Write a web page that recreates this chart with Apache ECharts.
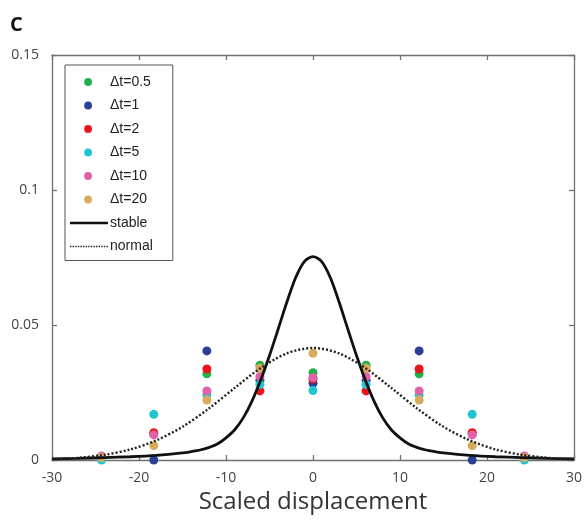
<!DOCTYPE html>
<html>
<head>
<meta charset="utf-8">
<script src="https://cdn.jsdelivr.net/npm/echarts@6/dist/echarts.min.js"></script>
<style>
html,body{margin:0;padding:0;background:#fff;}
#chart{width:585px;height:527px;}
</style>
</head>
<body>
<div id="chart"></div>
<script>
// ---- data ----
var seriesNames = ['\u0394t=0.5', '\u0394t=1', '\u0394t=2', '\u0394t=5', '\u0394t=10', '\u0394t=20'];
var pointX = [-24.3, -18.3, -12.2, -6.1, 0, 6.1, 12.2, 18.3, 24.3];
var dt05 = [0.0010, 0.0097, 0.0319, 0.0351, 0.0323, 0.0351, 0.0319, 0.0097, 0.0010];
var dt1  = [0.0008, 0.0000, 0.0404, 0.0295, 0.0284, 0.0295, 0.0404, 0.0000, 0.0008];
var dt2  = [0.0010, 0.0101, 0.0337, 0.0256, 0.0300, 0.0256, 0.0337, 0.0101, 0.0010];
var dt5  = [0.0000, 0.0169, 0.0241, 0.0280, 0.0257, 0.0280, 0.0241, 0.0169, 0.0000];
var dt10 = [0.0015, 0.0093, 0.0256, 0.0309, 0.0305, 0.0309, 0.0256, 0.0093, 0.0015];
var dt20 = [0.0009, 0.0053, 0.0222, 0.0340, 0.0395, 0.0340, 0.0222, 0.0053, 0.0009];

var stableX = [-30,-27,-24,-21,-18,-15,-14,-13,-12,-11,-10,-9,-8,-7,-6,-5,-4,-3,-2,-1,0,
               1,2,3,4,5,6,7,8,9,10,11,12,13,14,15,18,21,24,27,30];
var stableY = [0.0004,0.0006,0.0009,0.0012,0.0017,0.0026,0.0031,0.0037,0.0046,0.0059,0.0082,0.0112,0.0157,0.0219,0.0297,0.0387,0.0485,0.0585,0.0675,0.0735,0.0753,
               0.0735,0.0675,0.0585,0.0485,0.0387,0.0297,0.0219,0.0157,0.0112,0.0082,0.0059,0.0046,0.0037,0.0031,0.0026,0.0017,0.0012,0.0009,0.0006,0.0004];
var normalX = [-30,-27,-24,-21,-18,-15,-12,-9,-6,-3,0,3,6,9,12,15,18,21,24,27,30];
var normalY = [0.0003,0.0008,0.0019,0.0039,0.0073,0.0123,0.0190,0.0267,0.0341,0.0395,0.0415,
               0.0395,0.0341,0.0267,0.0190,0.0123,0.0073,0.0039,0.0019,0.0008,0.0003];

var xTicks = [-30, -20, -10, 0, 10, 20, 30];
var yTicks = [0, 0.05, 0.1, 0.15];

var colors = ['#20b24a', '#2c3f98', '#e8151d', '#1fc6cf', '#e062a8', '#d9a95c'];
var pointSets = [dt05, dt1, dt2, dt5, dt10, dt20];

function pairs(xs, ys) { return xs.map(function (x, i) { return [x, ys[i]]; }); }

// legend icon shapes (styling only)
var IW = 40, IH = 14;
var frame = 'M0,0 M' + IW + ',' + IH + ' ';
var dotIcon = 'path://' + frame + 'M24,7 A3.9,3.9 0 1,0 16.2,7 A3.9,3.9 0 1,0 24,7 Z';
var solidIcon = 'path://' + frame + 'M2,5.8 L' + IW + ',5.8 L' + IW + ',8.2 L2,8.2 Z';
var dotted = 'path://' + frame;
for (var k = 2; k < IW - 1; k += 2.6) {
  dotted += 'M' + k + ',6.2 L' + (k + 1.4) + ',6.2 L' + (k + 1.4) + ',7.8 L' + k + ',7.8 Z ';
}

var series = [];
seriesNames.forEach(function (n, i) {
  series.push({
    name: n, type: 'scatter',
    symbol: 'circle', symbolSize: 9, clip: false,
    itemStyle: { color: colors[i], opacity: 1 },
    data: pairs(pointX, pointSets[i]), z: 3
  });
});
series.push({
  name: 'stable', type: 'line', showSymbol: false, symbol: 'none', smooth: 0.3,
  itemStyle: { color: '#111' },
  lineStyle: { color: '#111', width: 2.8, type: 'solid' },
  data: pairs(stableX, stableY), z: 4
});
series.push({
  name: 'normal', type: 'line', showSymbol: false, symbol: 'none', smooth: 0.3,
  itemStyle: { color: '#222' },
  lineStyle: { color: '#222', width: 2.4, type: [2, 2] },
  data: pairs(normalX, normalY), z: 4
});

var chart = echarts.init(document.getElementById('chart'), null, { renderer: 'canvas' });
var fontFam = '"Open Sans", "Noto Sans", sans-serif';
var legFont = '"Liberation Sans", Arial, sans-serif';
var axisLineStyle = { color: '#707070', width: 1.3 };

var legendData = seriesNames.map(function (n, i) {
  return { name: n, icon: dotIcon, itemStyle: { color: colors[i] } };
}).concat([
  { name: 'stable', icon: solidIcon, itemStyle: { color: '#111' } },
  { name: 'normal', icon: dotted, itemStyle: { color: '#222' } }
]);

chart.setOption({
  animation: false,
  backgroundColor: '#ffffff',
  title: {
    text: 'C', left: 5, top: 10,
    textStyle: { fontSize: 20, fontWeight: 'bold', color: '#111', fontFamily: fontFam }
  },
  grid: { left: 52, right: 11, top: 55, bottom: 67, containLabel: false },
  legend: {
    orient: 'vertical', left: 65, top: 65,
    backgroundColor: '#fff', borderColor: '#555', borderWidth: 1,
    padding: [10, 20, 7, 3],
    itemWidth: IW, itemHeight: IH, itemGap: 9.5,
    textStyle: { fontSize: 14, color: '#222', fontFamily: legFont, padding: [0, 0, 0, -3] },
    data: legendData,
    selectedMode: false
  },
  xAxis: [{
    type: 'value', min: -30, max: 30, interval: 10,
    axisLine: { show: true, onZero: false, lineStyle: axisLineStyle },
    axisTick: { show: true, inside: true, length: 5, lineStyle: axisLineStyle },
    axisLabel: { fontSize: 14, color: '#444', fontFamily: fontFam, margin: 11,
      formatter: function (v) { return xTicks.indexOf(v) >= 0 ? String(v) : ''; } },
    splitLine: { show: false },
    name: 'Scaled displacement', nameLocation: 'middle', nameGap: 27,
    nameTextStyle: { fontSize: 24, color: '#333', fontFamily: fontFam }
  }, {
    type: 'value', position: 'top', min: -30, max: 30, interval: 10,
    axisLine: { show: true, onZero: false, lineStyle: axisLineStyle },
    axisTick: { show: true, inside: true, length: 5, lineStyle: axisLineStyle },
    axisLabel: { show: false }, splitLine: { show: false }
  }],
  yAxis: [{
    type: 'value', min: 0, max: 0.15, interval: 0.05,
    axisLine: { show: true, onZero: false, lineStyle: axisLineStyle },
    axisTick: { show: true, inside: true, length: 5, lineStyle: axisLineStyle },
    axisLabel: { fontSize: 14, color: '#444', fontFamily: fontFam, margin: 13,
      formatter: function (v) {
        for (var i = 0; i < yTicks.length; i++) { if (Math.abs(yTicks[i] - v) < 1e-9) return String(yTicks[i]); }
        return '';
      } },
    splitLine: { show: false }
  }, {
    type: 'value', position: 'right', min: 0, max: 0.15, interval: 0.05,
    axisLine: { show: true, onZero: false, lineStyle: axisLineStyle },
    axisTick: { show: true, inside: true, length: 5, lineStyle: axisLineStyle },
    axisLabel: { show: false }, splitLine: { show: false }
  }],
  series: series
});
</script>
</body>
</html>
